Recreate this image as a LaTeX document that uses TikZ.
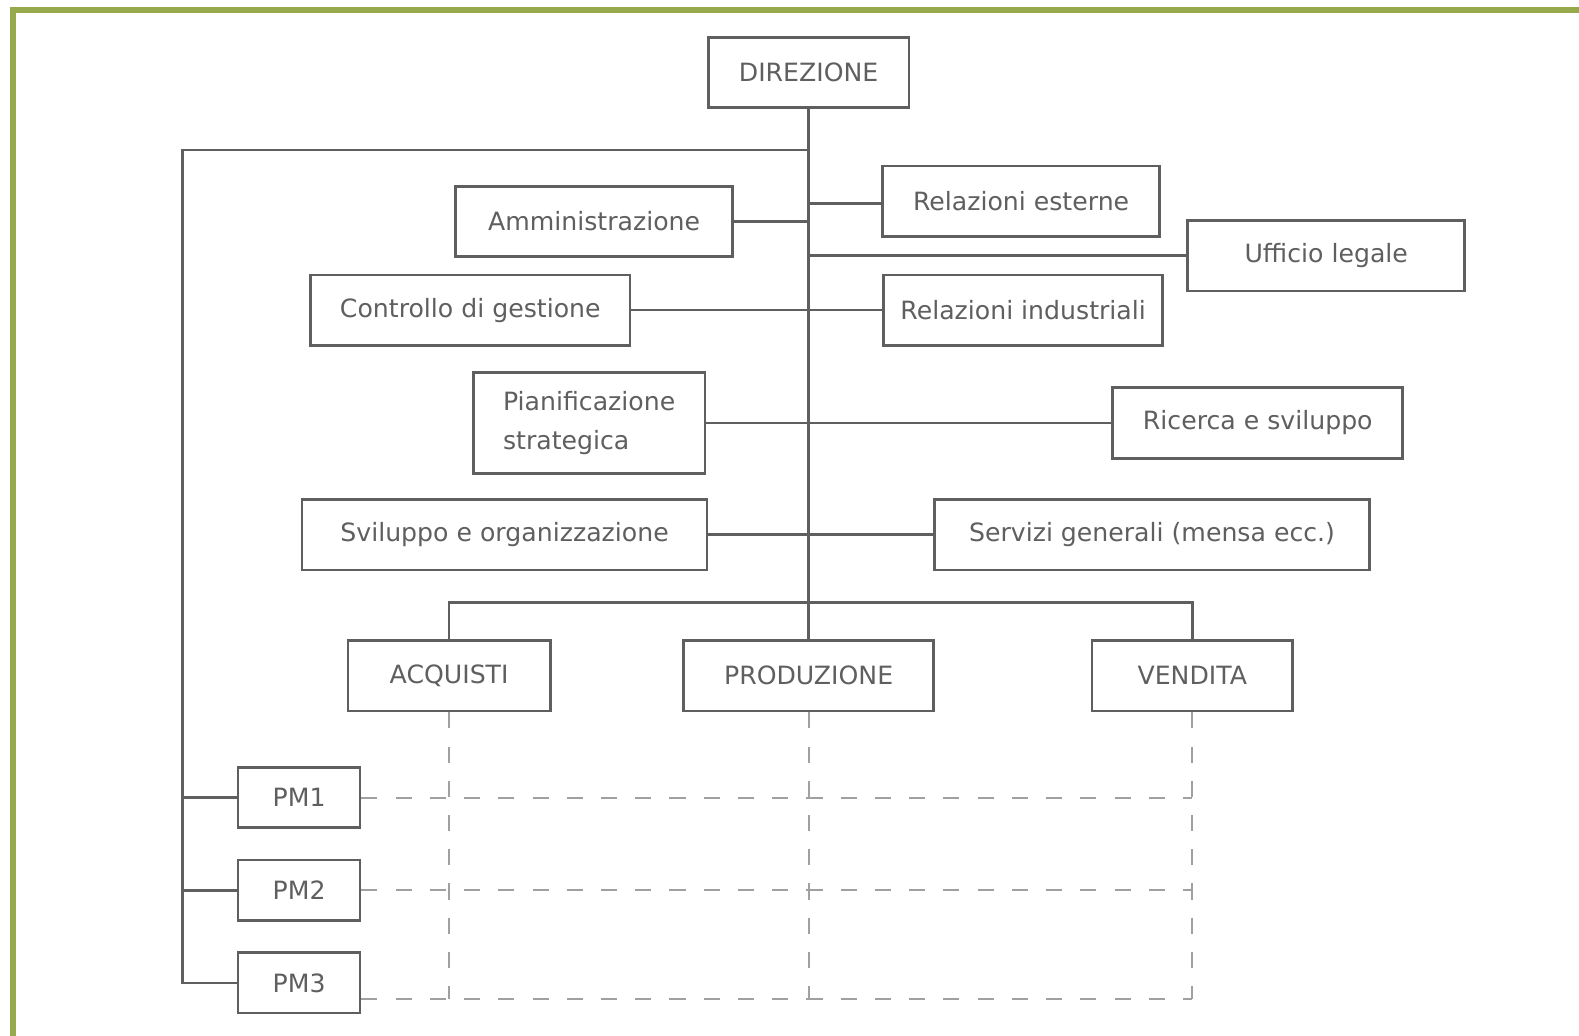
\documentclass[tikz,border=0pt]{standalone}
\usepackage{tikz}
\usepackage{fontspec}
\setsansfont{DejaVu Sans}
\usetikzlibrary{positioning}
\definecolor{frame}{RGB}{150,170,75}
\definecolor{ink}{RGB}{95,95,95}
\definecolor{dash}{RGB}{160,160,160}

\begin{document}
\begin{tikzpicture}[x=1pt,y=-1pt,
    box/.style={draw=ink,line width=2.6pt,fill=white,minimum height=70pt,
      inner sep=0pt,text=ink,font=\sffamily\fontsize{25}{38}\selectfont},
    link/.style={draw=ink,line width=2.6pt},
    matrixline/.style={draw=dash,line width=2pt,dash pattern=on 16pt off 18pt}]
    \useasboundingbox (0,0) rectangle (1568,1028);
    \draw[frame,line width=6pt] (13,1040) -- (13,10) -- (1580,10);

    % vertici
    \node[box,minimum width=199pt] (dir) at (803,72) {DIREZIONE};
    \node[box,minimum width=275pt] (amm) at (590,220) {Amministrazione};
    \node[box,minimum width=275pt] (rest) at (1014,200) {Relazioni esterne};
    \node[box,minimum width=275pt] (uff) at (1317,254) {Ufficio legale};
    \node[box,minimum width=317pt] (ctrl) at (467,308) {Controllo di gestione};
    \node[box,minimum width=277pt] (rind) at (1016,308) {Relazioni industriali};
    \node[box,minimum width=230pt,minimum height=100pt,align=left] (pian) at (585,420)
      {Pianificazione\\strategica};
    \node[box,minimum width=288pt] (ric) at (1249,420) {Ricerca e sviluppo};
    \node[box,minimum width=402pt] (svil) at (501,531) {Sviluppo e organizzazione};
    \node[box,minimum width=432pt] (serv) at (1144,531) {Servizi generali (mensa ecc.)};

    % linea
    \node[box,minimum width=201pt] (acq) at (446,671) {ACQUISTI};
    \node[box,minimum width=248pt] (prod) at (803,671) {PRODUZIONE};
    \node[box,minimum width=199pt] (ven) at (1184,671) {VENDITA};

    % project manager
    \node[box,minimum width=121pt,minimum height=60pt] (pm1) at (297,792) {PM1};
    \node[box,minimum width=121pt,minimum height=60pt] (pm2) at (297,884) {PM2};
    \node[box,minimum width=121pt,minimum height=60pt] (pm3) at (297,976) {PM3};

    \coordinate (top) at (803,149);
    \coordinate (left) at (181,149);
    \coordinate (trunk) at (803,598);
    \coordinate (bot) at (803,992);

    \draw[link] (dir.south) -- (prod.north);
    \draw[link] (top) -- (left) |- (pm3.west);
    \draw[link] (left |- pm1.west) -- (pm1.west);
    \draw[link] (left |- pm2.west) -- (pm2.west);
    \draw[link] (amm.east) -- (amm.east -| top);
    \draw[link] ([yshift=-2pt]rest.west) -- ([yshift=-2pt]rest.west -| top);
    \draw[link] (uff.west) -- (uff.west -| top);
    \draw[link] (ctrl.east) -- (rind.west);
    \draw[link] (pian.east) -- (ric.west);
    \draw[link] (svil.east) -- (serv.west);
    \draw[link] (acq.north) |- (trunk) -| (ven.north);

    % matrice
    \draw[matrixline] (acq.south) -- (acq.south |- bot);
    \draw[matrixline] (prod.south) -- (bot);
    \draw[matrixline] (ven.south) -- (ven.south |- bot);
    \draw[matrixline] (pm1.east) -- (pm1.east -| ven.south);
    \draw[matrixline] (pm2.east) -- (pm2.east -| ven.south);
    \draw[matrixline] (pm3.east |- bot) -- (ven.south |- bot);
\end{tikzpicture}
\end{document}
